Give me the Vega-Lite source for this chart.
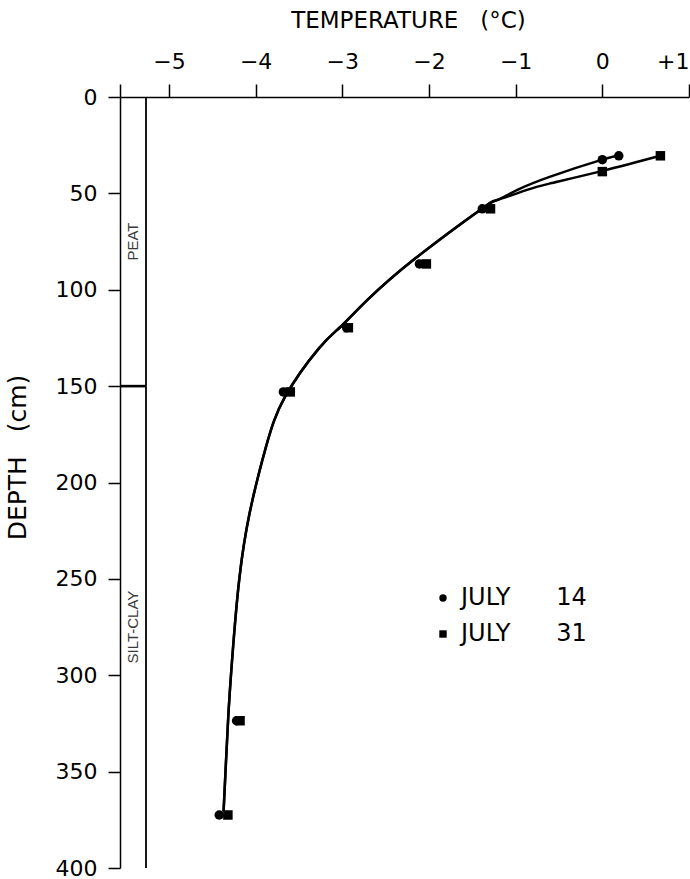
{
  "$schema": "https://vega.github.io/schema/vega-lite/v6.json",
  "width": 569,
  "height": 771,
  "autosize": "none",
  "padding": {"left": 120, "top": 97, "right": 1, "bottom": 11},
  "background": "white",
  "config": {"view": {"stroke": null}, "font": "DejaVu Sans"},
  "datasets": {
    "soil": [
      {"layer": "PEAT", "top": 0, "bottom": 150},
      {"layer": "SILT-CLAY", "top": 150, "bottom": 400}
    ],
    "curves": [
      {"date": "JULY 14", "temp": 0.19, "depth": 30.5},
      {"date": "JULY 14", "temp": 0.0, "depth": 32.5},
      {"date": "JULY 14", "temp": -0.6, "depth": 41.3},
      {"date": "JULY 14", "temp": -0.98, "depth": 48.2},
      {"date": "JULY 14", "temp": -1.21, "depth": 53.4},
      {"date": "JULY 14", "temp": -1.41, "depth": 58.6},
      {"date": "JULY 14", "temp": -2.157, "depth": 83.7},
      {"date": "JULY 14", "temp": -2.71, "depth": 105.3},
      {"date": "JULY 14", "temp": -3.02, "depth": 119.2},
      {"date": "JULY 14", "temp": -3.27, "depth": 130.4},
      {"date": "JULY 14", "temp": -3.66, "depth": 155.5},
      {"date": "JULY 14", "temp": -3.88, "depth": 181.4},
      {"date": "JULY 14", "temp": -4.07, "depth": 216},
      {"date": "JULY 14", "temp": -4.19, "depth": 250.6},
      {"date": "JULY 14", "temp": -4.26, "depth": 285.2},
      {"date": "JULY 14", "temp": -4.31, "depth": 317},
      {"date": "JULY 14", "temp": -4.345, "depth": 347.4},
      {"date": "JULY 14", "temp": -4.37, "depth": 370.7},
      {"date": "JULY 31", "temp": 0.67, "depth": 30.5},
      {"date": "JULY 31", "temp": 0.015, "depth": 38.2},
      {"date": "JULY 31", "temp": -0.6, "depth": 44.8},
      {"date": "JULY 31", "temp": -0.87, "depth": 48.2},
      {"date": "JULY 31", "temp": -1.21, "depth": 53.4},
      {"date": "JULY 31", "temp": -1.41, "depth": 58.6},
      {"date": "JULY 31", "temp": -2.157, "depth": 83.7},
      {"date": "JULY 31", "temp": -2.71, "depth": 105.3},
      {"date": "JULY 31", "temp": -3.02, "depth": 119.2},
      {"date": "JULY 31", "temp": -3.27, "depth": 130.4},
      {"date": "JULY 31", "temp": -3.66, "depth": 155.5},
      {"date": "JULY 31", "temp": -3.88, "depth": 181.4},
      {"date": "JULY 31", "temp": -4.07, "depth": 216},
      {"date": "JULY 31", "temp": -4.19, "depth": 250.6},
      {"date": "JULY 31", "temp": -4.26, "depth": 285.2},
      {"date": "JULY 31", "temp": -4.31, "depth": 317},
      {"date": "JULY 31", "temp": -4.345, "depth": 347.4},
      {"date": "JULY 31", "temp": -4.37, "depth": 370.7}
    ],
    "points": [
      {"date": "JULY 14", "temp": 0.19, "depth": 30.5},
      {"date": "JULY 14", "temp": 0.0, "depth": 32.5},
      {"date": "JULY 14", "temp": -1.385, "depth": 58},
      {"date": "JULY 14", "temp": -2.11, "depth": 86.6},
      {"date": "JULY 14", "temp": -2.95, "depth": 119.7},
      {"date": "JULY 14", "temp": -3.68, "depth": 153},
      {"date": "JULY 14", "temp": -4.22, "depth": 323.6},
      {"date": "JULY 14", "temp": -4.42, "depth": 372.5},
      {"date": "JULY 31", "temp": 0.67, "depth": 30.5},
      {"date": "JULY 31", "temp": 0.0, "depth": 38.7},
      {"date": "JULY 31", "temp": -1.29, "depth": 58},
      {"date": "JULY 31", "temp": -2.03, "depth": 86.6},
      {"date": "JULY 31", "temp": -2.93, "depth": 119.7},
      {"date": "JULY 31", "temp": -3.6, "depth": 153},
      {"date": "JULY 31", "temp": -4.18, "depth": 323.6},
      {"date": "JULY 31", "temp": -4.32, "depth": 372.5}
    ]
  },
  "layer": [
    {
      "data": {"name": "soil"},
      "mark": {"type": "rule", "color": "black", "strokeWidth": 1.8},
      "encoding": {
        "x": {"datum": -5.265, "type": "quantitative", "scale": {"domain": [-5.565, 1], "nice": false, "zero": false}},
        "y": {"field": "top", "type": "quantitative", "scale": {"domain": [0, 400], "reverse": true, "nice": false, "zero": false}, "title": "DEPTH\u00a0\u00a0\u00a0(cm)"},
        "y2": {"field": "bottom"}
      }
    },
    {
      "data": {"name": "soil"},
      "transform": [{"filter": "datum.top > 0"}],
      "mark": {"type": "rule", "color": "black", "strokeWidth": 2.6},
      "encoding": {
        "x": {"datum": -5.565, "type": "quantitative"},
        "x2": {"datum": -5.265},
        "y": {"field": "top", "type": "quantitative", "title": "DEPTH\u00a0\u00a0\u00a0(cm)"}
      }
    },
    {
      "data": {"name": "soil"},
      "transform": [{"calculate": "(datum.top + datum.bottom) / 2", "as": "mid"}],
      "mark": {"type": "text", "angle": 270, "font": "Liberation Sans", "fontSize": 15, "color": "#3a3a3a", "align": "center", "baseline": "middle"},
      "encoding": {
        "x": {"datum": -5.415, "type": "quantitative"},
        "y": {"field": "mid", "type": "quantitative", "title": "DEPTH\u00a0\u00a0\u00a0(cm)"},
        "text": {"field": "layer"}
      }
    },
    {
      "data": {"name": "curves"},
      "mark": {"type": "line", "color": "black", "strokeWidth": 2.5, "interpolate": "natural"},
      "encoding": {
        "x": {
          "field": "temp",
          "type": "quantitative",
          "scale": {"domain": [-5.565, 1], "nice": false, "zero": false},
          "axis": {
            "orient": "top",
            "title": "TEMPERATURE\u00a0\u00a0\u00a0(°C)",
            "titleFontSize": 23,
            "titleFontWeight": "normal",
            "titleColor": "black",
            "titleX": 288,
            "titleY": -70,
            "titleAlign": "center",
            "titleBaseline": "alphabetic",
            "values": [-5.565, -5, -4, -3, -2, -1, 0, 1],
            "labelExpr": "datum.value < -5.2 ? '' : datum.value > 0 ? '+' + datum.value : datum.value < 0 ? '\u2212' + abs(datum.value) : '0'",
            "labelFontSize": 22,
            "labelColor": "black",
            "labelBaseline": "alphabetic",
            "labelPadding": 16,
            "labelFlush": true,
            "labelOverlap": false,
            "tickSize": 13,
            "tickWidth": 1.5,
            "tickColor": "black",
            "domainColor": "black",
            "domainWidth": 1.5,
            "grid": false
          }
        },
        "y": {
          "field": "depth",
          "type": "quantitative",
          "scale": {"domain": [0, 400], "reverse": true, "nice": false, "zero": false},
          "axis": {
            "title": "DEPTH\u00a0\u00a0\u00a0(cm)",
            "titleFontSize": 25,
            "titleFontWeight": "normal",
            "titleColor": "black",
            "titleAngle": 270,
            "titleX": -103,
            "titleY": 360,
            "titleAlign": "center",
            "titleBaseline": "middle",
            "values": [0, 50, 100, 150, 200, 250, 300, 350, 400],
            "labelFontSize": 22,
            "labelColor": "black",
            "labelPadding": 11,
            "labelFlush": false,
            "labelOverlap": false,
            "tickSize": 12,
            "tickWidth": 1.5,
            "tickColor": "black",
            "domainColor": "black",
            "domainWidth": 1.5,
            "grid": false
          }
        },
        "order": {"field": "depth", "type": "quantitative"},
        "detail": {"field": "date"}
      }
    },
    {
      "data": {"name": "points"},
      "mark": {"type": "point", "filled": true, "color": "black", "opacity": 1, "size": 90},
      "encoding": {
        "x": {"field": "temp", "type": "quantitative", "title": "TEMPERATURE\u00a0\u00a0\u00a0(°C)"},
        "y": {"field": "depth", "type": "quantitative", "title": "DEPTH\u00a0\u00a0\u00a0(cm)"},
        "shape": {
          "field": "date",
          "type": "nominal",
          "scale": {"domain": ["JULY 14", "JULY 31"], "range": ["circle", "square"]},
          "legend": {
            "orient": "none",
            "legendX": 311,
            "legendY": 489,
            "title": null,
            "labelFontSize": 24,
            "labelColor": "black",
            "labelOffset": 6,
            "symbolSize": 55,
            "symbolFillColor": "black",
            "symbolStrokeWidth": 0,
            "rowPadding": 12,
            "labelExpr": "replace(datum.label, ' ', '\u00a0\u00a0\u00a0\u00a0\u00a0\u00a0')"
          }
        }
      }
    }
  ]
}
